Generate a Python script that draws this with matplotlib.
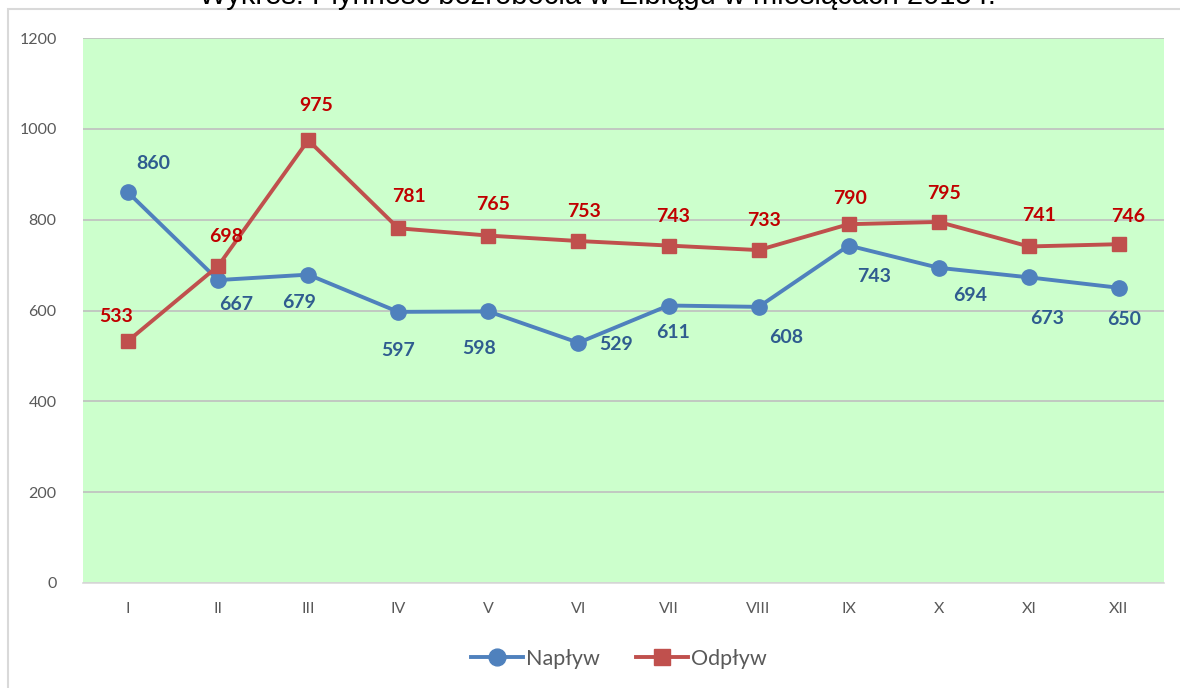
import matplotlib.pyplot as plt
from matplotlib.patches import Rectangle

# dane
miesiace = ["I", "II", "III", "IV", "V", "VI", "VII", "VIII", "IX", "X", "XI", "XII"]
naplyw = [860, 667, 679, 597, 598, 529, 611, 608, 743, 694, 673, 650]
odplyw = [533, 698, 975, 781, 765, 753, 743, 733, 790, 795, 741, 746]
tytul = "Wykres: Płynność bezrobocia w Elblągu w miesiącach 2015 r."

# przesunięcia etykiet (piksele)
off_naplyw = [(25, 29), (18, -24), (-9, -28), (0, -39), (-9, -37), (38, -2),
              (5, -27), (28, -31), (25, -31), (31, -28), (18, -41), (5, -32)]
off_odplyw = [(-12, 24), (8, 29), (8, 35), (11, 32), (5, 31), (6, 30),
              (5, 29), (5, 30), (1, 26), (5, 28), (10, 31), (9, 28)]

niebieski = "#4F81BD"
czerwony = "#C0504D"

fig = plt.figure(figsize=(11.8, 6.88), dpi=100)
ax = fig.add_axes([83 / 1180, (688 - 583) / 688, 1081 / 1180, 545 / 688])
ax.set_facecolor("#CCFFCC")

x = range(len(miesiace))
ax.plot(x, naplyw, color=niebieski, lw=2.8, marker="o", ms=11, label="Napływ", zorder=3)
ax.plot(x, odplyw, color=czerwony, lw=2.8, marker="s", ms=10, label="Odpływ", zorder=3)

for i, v in enumerate(naplyw):
    ax.annotate(str(v), (i, v), xytext=off_naplyw[i], textcoords="offset pixels",
                ha="center", va="center", fontsize=14, fontweight="bold",
                color="#2F5C8F", family="Lato")
for i, v in enumerate(odplyw):
    ax.annotate(str(v), (i, v), xytext=off_odplyw[i], textcoords="offset pixels",
                ha="center", va="center", fontsize=14, fontweight="bold",
                color="#C00000", family="Lato")

ax.set_xlim(-0.5, 11.5)
ax.set_ylim(0, 1200)
ax.set_yticks(range(0, 1201, 200))
ax.set_xticks(list(x))
ax.set_xticklabels(miesiace)
ax.tick_params(length=0, labelsize=11.5, labelcolor="#595959", pad=14)
ax.tick_params(axis="y", pad=19)
for lab in ax.get_xticklabels() + ax.get_yticklabels():
    lab.set_family("Lato")
ax.grid(axis="y", color="#BFBFBF", lw=1.2)
ax.set_axisbelow(True)
for s in ["top", "right", "left"]:
    ax.spines[s].set_visible(False)
ax.spines["bottom"].set_color("#D9D9D9")
ax.spines["bottom"].set_linewidth(1.2)

leg = fig.legend(loc="center", bbox_to_anchor=(619 / 1180, (688 - 659) / 688), ncol=2,
                 frameon=False, handlelength=2.4, columnspacing=1.7,
                 handletextpad=0.15, labelcolor="#595959", markerscale=1.1,
                 prop={"family": "Lato", "size": 15.5})

# ramka wykresu
fig.patches.append(Rectangle((8 / 1180, -0.05), 1.1, (688 - 9) / 688 + 0.05,
                             transform=fig.transFigure, fill=False,
                             edgecolor="#D9D9D9", lw=1.5))

fig.text(597 / 1180, 1 - 4 / 688, tytul, ha="center", va="baseline",
         fontsize=21, family="Liberation Sans", color="#000000")

plt.savefig("out.png", dpi=100)
